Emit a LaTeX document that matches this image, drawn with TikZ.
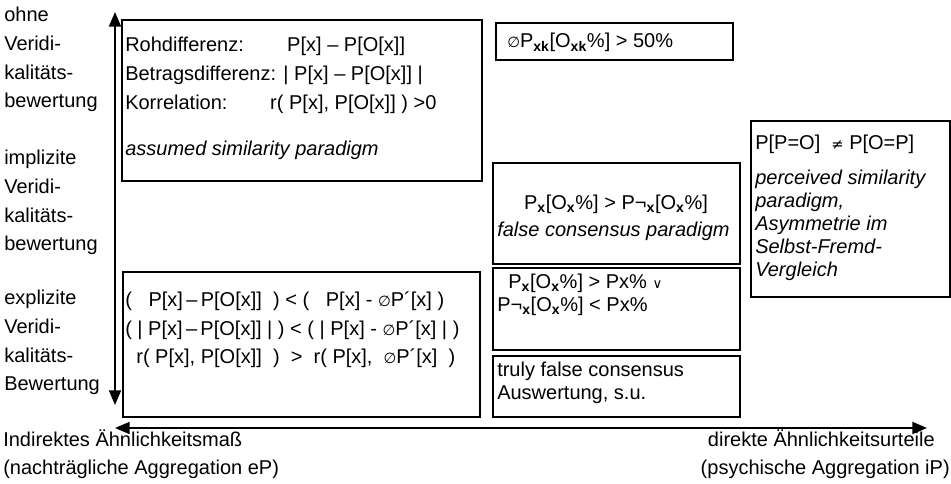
\documentclass[tikz,border=0pt]{standalone}
\usepackage{fontspec}
\setmainfont{Liberation Sans}
\newfontfamily\symfont{DejaVu Sans}
\usetikzlibrary{arrows.meta}
\newcommand{\Davg}{{\symfont\fontsize{11}{11}\selectfont ∅}}
\newcommand{\Vor}{{\symfont\fontsize{10}{10}\selectfont ∨}}
\newcommand{\Neq}{{\symfont\fontsize{11}{11}\selectfont ≠}}
\newcommand{\sx}[1]{\textsubscript{\bfseries #1}}

\begin{document}
\begin{tikzpicture}[x=0.75pt,y=0.75pt,yscale=-1,xscale=1,
  txt/.style={inner sep=0pt,anchor=base west,align=left,font=\fontsize{15}{21.5}\selectfont},
  txtt/.style={txt,font=\fontsize{15}{17.25}\selectfont},
  axis/.style={line width=1.5pt,{Triangle[width=9pt,length=11pt]}-{Triangle[width=9pt,length=11pt]}},
  box/.style={line width=1pt}]
\useasboundingbox (0,0) rectangle (951,484);

%Straight Lines (axes)
\coordinate (ytop) at (115,12);
\coordinate (ybot) at (115,405);
\coordinate (xleft) at (115,428);
\coordinate (xright) at (927,428);
\draw [axis] (ybot) -- (ytop);
\draw [axis] (xleft) -- (xright);

%Shape: Rectangle
\draw [box] (122,20) rectangle (482,181);
%Shape: Rectangle
\draw [box] (123,272) rectangle (480,417);
%Shape: Rectangle
\draw [box] (496,23) rectangle (733,60);
%Shape: Rectangle
\draw [box] (493,163) rectangle (740,264);
%Shape: Rectangle
\draw [box] (493,268) rectangle (740,350);
%Shape: Rectangle
\draw [box] (493,356) rectangle (740,417);
%Shape: Rectangle
\draw [box] (751,121) rectangle (950,297);

% Text Node (placed at the baseline of the last line)
\node [txt] (ohne) at (4,108) {ohne\\Veridi-\\kalitäts-\\bewertung};
% Text Node
\node [txt] (impl) at (4,251) {implizite\\Veridi-\\kalitäts-\\bewertung};
% Text Node
\node [txt] (expl) at (4,391) {explizite\\Veridi-\\kalitäts-\\Bewertung};

% Text Node
\node [txt] (roh) at (125,156) {\makebox[121.5pt][l]{Rohdifferenz:}P[x] – P[O[x]]\\
  Betragsdifferenz: | P[x] – P[O[x]] |\\
  \makebox[108.75pt][l]{Korrelation:}r( P[x], P[O[x]] ) >0\\[13.5pt]
  \textit{assumed similarity paradigm}};
% Text Node
\node [txt] (expr) at (125,364) {(~~~P[x]\,–\,P[O[x]]~~) < (~~~P[x] - \Davg P´[x] )\\
  ( | P[x]\,–\,P[O[x]] | ) < ( | P[x] - \Davg P´[x] | )\\
  ~~r( P[x], P[O[x]]~~)~~>~~r( P[x],~~\Davg P´[x]~~)};

% Text Node
\node [txt] (mean) at (507,48) {\Davg P\sx{xk}[O\sx{xk}\%] > 50\%};
% Text Node
\node [txt,anchor=base] (fcons) at (616,210) {P\sx{x}[O\sx{x}\%] > P¬\sx{x}[O\sx{x}\%]};
% Text Node
\node [txt] (fpar) at (497,237) {\textit{false consensus paradigm}};
% Text Node
\node [txtt] (pxor) at (497,312) {~~P\sx{x}[O\sx{x}\%] > Px\% \Vor\\P¬\sx{x}[O\sx{x}\%] < Px\%};
% Text Node
\node [txtt] (truly) at (497,400) {truly false consensus\\Auswertung, s.u.};
% Text Node
\node [txtt] (perc) at (755,277) {P[P=O]~~\Neq\ P[O=P]\\[9pt]
  \textit{perceived similarity}\\\textit{paradigm,}\\\textit{Asymmetrie im}\\
  \textit{Selbst-Fremd-}\\\textit{Vergleich}};

% Text Node
\node [txt] (indir) at (3,475) {Indirektes Ähnlichkeitsmaß\\(nachträgliche Aggregation eP)};
% Text Node
\node [txt,anchor=base east] (direkt) at (935,447) {direkte Ähnlichkeitsurteile};
% Text Node
\node [txt,anchor=base east] (psych) at (950,475) {(psychische Aggregation iP)};

\end{tikzpicture}
\end{document}
